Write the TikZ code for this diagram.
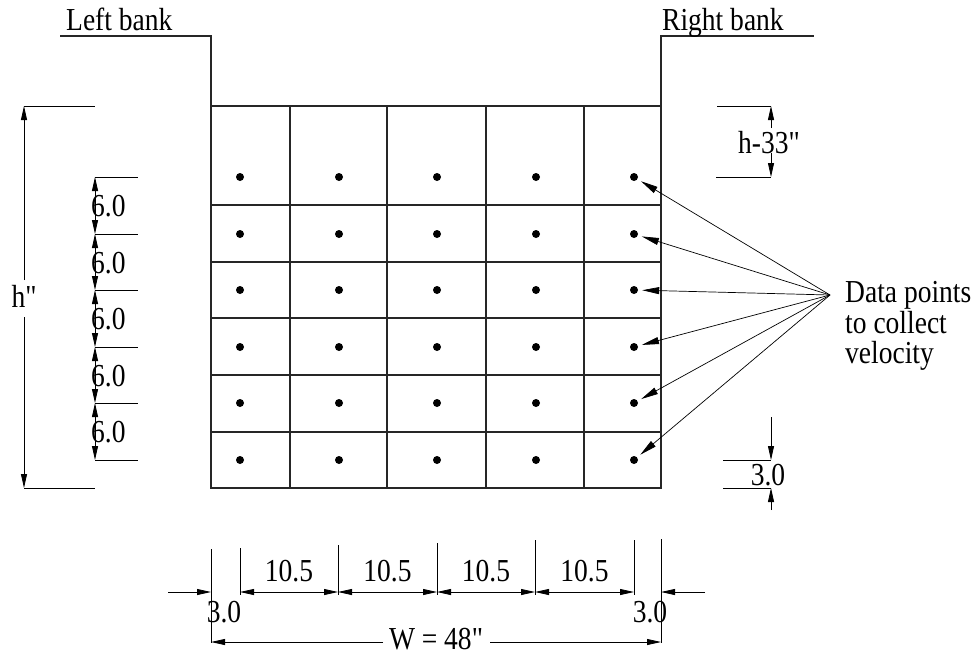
\documentclass[tikz,border=0pt]{standalone}
\usepackage{fontspec}
\setmainfont{Liberation Serif}[FakeStretch=0.86, Ligatures=TeXOff]
\usetikzlibrary{arrows.meta}
\begin{document}
\begin{tikzpicture}[x=1pt,y=-1pt,
  bankline/.style={line width=1.3pt, draw=black!85},
  gridline/.style={line width=1.1pt, draw=black!85},
  dimline/.style={line width=0.8pt, draw=black},
  dimarr/.style={-{Triangle[length=14pt,width=6pt]}},
  dimboth/.style={{Triangle[length=14pt,width=6pt]}-{Triangle[length=14pt,width=6pt]}},
  leader/.style={line width=0.7pt, -{Triangle[length=17pt,width=7pt]}, shorten >=4pt},
  lbl/.style={font=\fontsize{32}{32}\selectfont, inner sep=0pt},
  dot/.style={circle, fill=black, inner sep=0pt, minimum size=8pt}
]
\useasboundingbox (0,0) rectangle (976,656);

% banks
\draw[bankline] (60,36) -- (211,36) -- (211,106);
\draw[bankline] (661,106) -- (661,36) -- (814,36);
\node[lbl, anchor=base west] (lb) at (66,30) {Left bank};
\node[lbl, anchor=base west] (rb) at (662,30) {Right bank};

% grid
\draw[gridline] (211,106) rectangle (661,488);
\foreach \x in {290,387,486,584} \draw[gridline] (\x,106) -- (\x,488);
\foreach \y in {205,262,318,375,432} \draw[gridline] (211,\y) -- (661,\y);

% dots
\foreach \x [count=\c] in {240,339,437,536,634}
  \foreach \y [count=\r] in {177,234,290,347,403,460}
    \node[dot] (d\c-\r) at (\x,\y) {};

% leaders
\coordinate (hub) at (830,295);
\foreach \r in {1,...,6} \draw[leader] (hub) -- (d5-\r);
\node[lbl, anchor=base west] (t1) at (845,302) {Data points};
\node[lbl, anchor=base west] (t2) at (845,333) {to collect};
\node[lbl, anchor=base west] (t3) at (845,363) {velocity};

% h" dimension
\draw[dimline] (24,106) -- (95,106);
\draw[dimline] (24,488) -- (95,488);
\draw[dimline, dimarr] (24,280) -- (24,106);
\draw[dimline, dimarr] (24,317) -- (24,488);
\node[lbl, anchor=base] (hh) at (24,307) {h"};

% 6.0 dimensions
\foreach \y in {177,234,290,347,403,460} \draw[dimline] (95,\y) -- (138,\y);
\foreach \a/\b in {177/234,234/290,290/347,347/403,403/460}{
  \draw[dimline, dimboth] (95,\a) -- (95,\b);
  \node[lbl, anchor=base west] at (91,{(\a+\b)/2+11}) {6.0};
}

% h-33" dimension
\draw[dimline] (717,106) -- (771,106);
\draw[dimline] (716,177) -- (771,177);
\draw[dimline, dimarr] (771,128) -- (771,106);
\draw[dimline, dimarr] (771,153) -- (771,177);
\node[lbl, anchor=base] (h33) at (769,153) {h-33"};

% right 3.0 dimension
\draw[dimline] (723,460) -- (771,460);
\draw[dimline] (723,488) -- (771,488);
\draw[dimline, dimarr] (771,417) -- (771,460);
\draw[dimline, dimarr] (771,510) -- (771,488);
\node[lbl, anchor=base] (r3) at (768,485) {3.0};

% bottom extension lines
\draw[dimline] (211,549) -- (211,643);
\draw[dimline] (661,539) -- (661,643);
\draw[dimline] (240,548) -- (240,595);
\draw[dimline] (338,545) -- (338,595);
\draw[dimline] (437,543) -- (437,595);
\draw[dimline] (535,540) -- (535,595);
\draw[dimline] (634,540) -- (634,595);

% bottom dimensions
\draw[dimline, dimarr] (168,592) -- (211,592);
\draw[dimline, dimarr] (705,592) -- (661,592);
\foreach \a/\b in {240/338,338/437,437/535,535/634}{
  \draw[dimline, dimboth] (\a,592) -- (\b,592);
  \node[lbl, anchor=base] at ({(\a+\b)/2},581) {10.5};
}
\node[lbl, anchor=base] (b3l) at (224,622) {3.0};
\node[lbl, anchor=base] (b3r) at (650,622) {3.0};

% W dimension
\draw[dimline, dimarr] (383,642) -- (211,642);
\draw[dimline, dimarr] (490,642) -- (661,642);
\node[lbl, anchor=base] (w) at (436,649) {W = 48"};
\end{tikzpicture}
\end{document}
